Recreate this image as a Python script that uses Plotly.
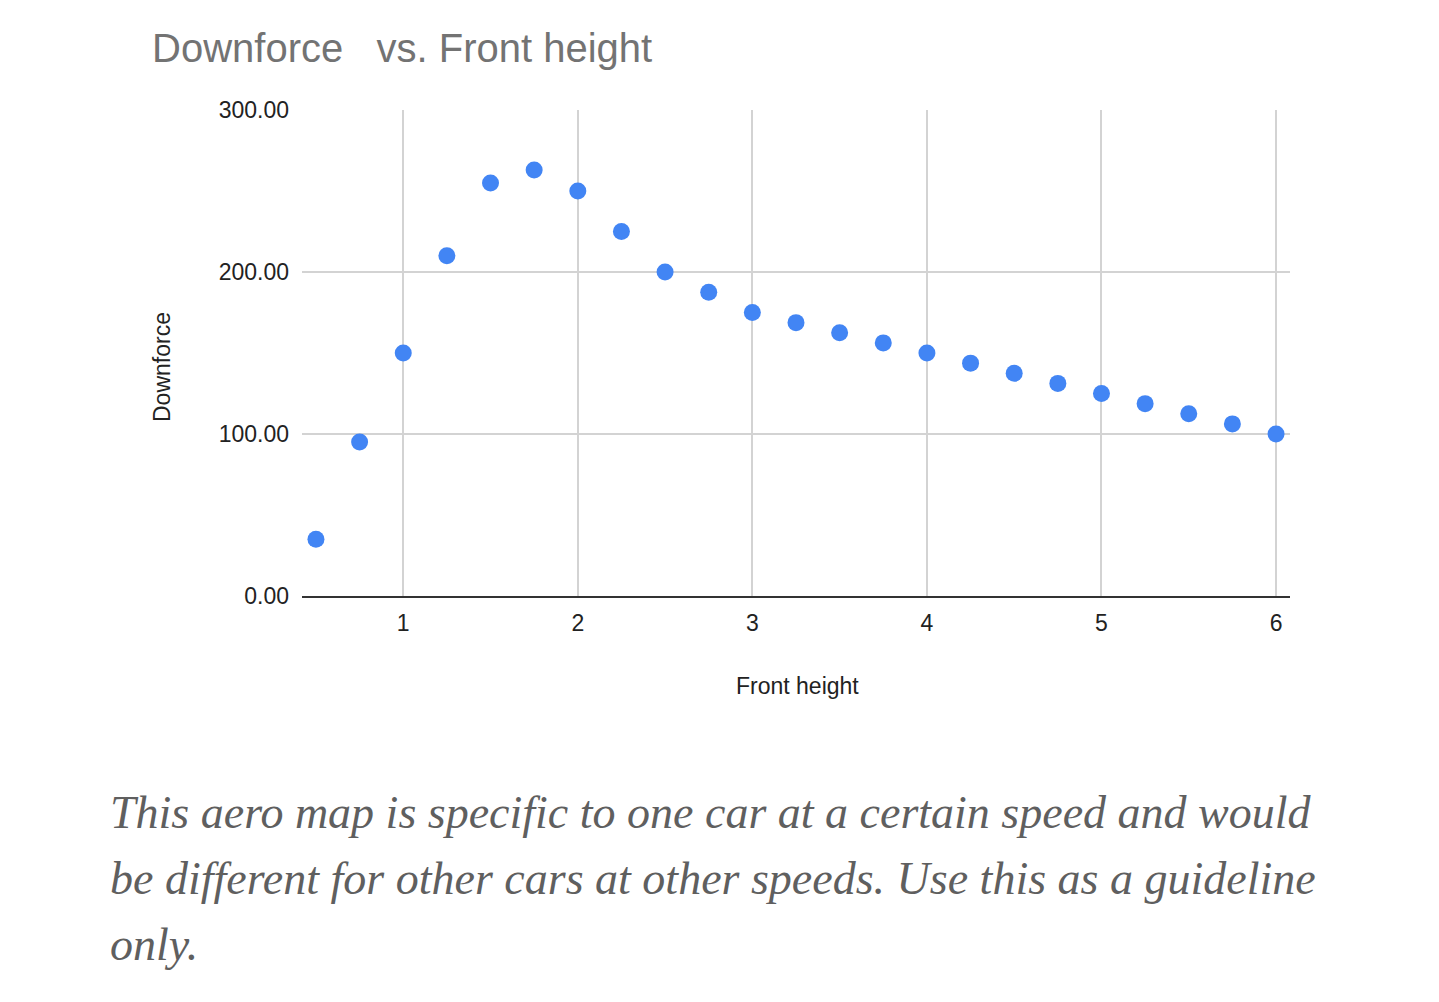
import plotly.graph_objects as go

front_height = [0.5, 0.75, 1.0, 1.25, 1.5, 1.75, 2.0, 2.25, 2.5, 2.75, 3.0, 3.25,
                3.5, 3.75, 4.0, 4.25, 4.5, 4.75, 5.0, 5.25, 5.5, 5.75, 6.0]
downforce = [35, 95, 150, 210, 255, 263, 250, 225, 200, 187.5, 175, 168.75,
             162.5, 156.25, 150, 143.75, 137.5, 131.25, 125, 118.75, 112.5, 106.25, 100]
y_ticks = [0, 100, 200, 300]
y_tick_labels = ["0.00", "100.00", "200.00", "300.00"]
x_ticks = [1, 2, 3, 4, 5, 6]

title_text = "Downforce\u00a0\u00a0\u00a0vs. Front height"
caption_lines = [
    "This aero map is specific to one car at a certain speed and would",
    "be different for other cars at other speeds. Use this as a guideline",
    "only.",
]

W, H = 1439, 1002
L, R, T, B = 302, 1290, 110, 596


def px(x):
    return (x - L) / (R - L)


def py(y):
    return (B - y) / (B - T)


fig = go.Figure()
fig.add_trace(go.Scatter(
    x=front_height, y=downforce, mode="markers",
    marker=dict(size=17, color="#4285F4", line=dict(width=0)),
    showlegend=False,
))

annotations = [
    dict(text=title_text, x=px(150), y=py(48), xref="paper", yref="paper",
         xanchor="left", yanchor="middle", showarrow=False,
         font=dict(family="Liberation Sans, Arial, sans-serif", size=40, color="#737373")),
    dict(text="Front height", x=px(797), y=py(686), xref="paper", yref="paper",
         xanchor="center", yanchor="middle", showarrow=False,
         font=dict(family="Liberation Sans, Arial, sans-serif", size=23, color="#222222")),
    dict(text="Downforce", x=px(162), y=py(367), xref="paper", yref="paper",
         xanchor="center", yanchor="middle", showarrow=False, textangle=-90,
         font=dict(family="Liberation Sans, Arial, sans-serif", size=23, color="#222222")),
]
for i, line in enumerate(caption_lines):
    annotations.append(dict(
        text="<i>" + line + "</i>", x=px(108), y=py(812 + 66 * i), xref="paper", yref="paper",
        xanchor="left", yanchor="middle", showarrow=False,
        font=dict(family="Liberation Serif, serif", size=46, color="#5f5f5f")))

fig.update_layout(
    width=W, height=H,
    margin=dict(l=L, r=W - R, t=T, b=H - B, pad=0),
    paper_bgcolor="white", plot_bgcolor="white",
    annotations=annotations,
    xaxis=dict(range=[0.42, 6.08], tickvals=x_ticks, ticktext=[str(v) for v in x_ticks],
               showgrid=True, gridcolor="#d3d3d3", gridwidth=1.5, zeroline=False,
               showline=True, linecolor="#333333", linewidth=2,
               ticks="", ticklabelstandoff=5,
               tickfont=dict(family="Liberation Sans, Arial, sans-serif", size=23, color="#222222")),
    yaxis=dict(range=[0, 300], tickvals=y_ticks, ticktext=y_tick_labels,
               showgrid=True, gridcolor="#d3d3d3", gridwidth=1.5, zeroline=False,
               showline=False, ticks="", ticklabelstandoff=12,
               tickfont=dict(family="Liberation Sans, Arial, sans-serif", size=23, color="#222222")),
)

fig.write_html("out.html")
